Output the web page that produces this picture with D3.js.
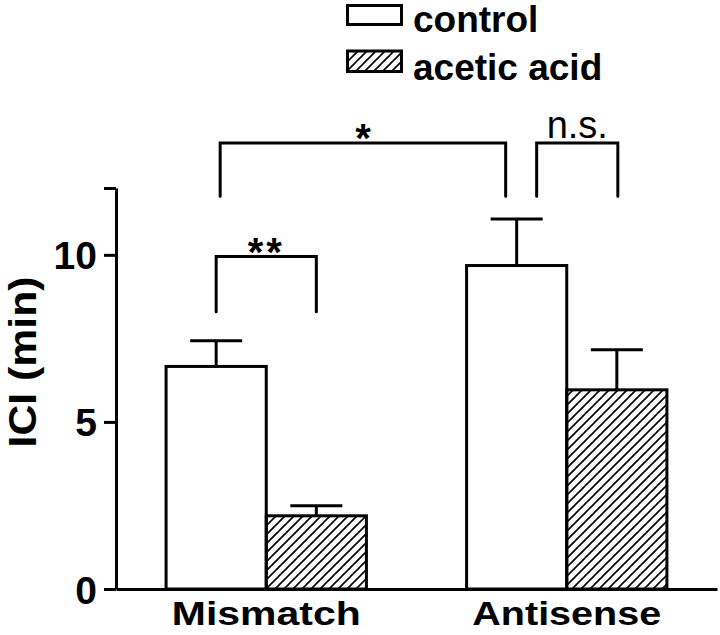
<!DOCTYPE html>
<html lang="en">
<head>
<meta charset="UTF-8">
<title>ICI mismatch vs antisense</title>
<script src="https://d3js.org/d3.v7.min.js"></script>
<style>
  body { margin: 0; background: #fff; }
  svg { font-family: 'Liberation Sans', Arial, sans-serif; display: block; }
</style>
</head>
<body>
<script>
// data
const groups = ["Mismatch", "Antisense"];
const series = ["control", "acetic acid"];
const means = [[6.66, 2.19], [9.68, 5.96]];
const sems = [[0.77, 0.30], [1.39, 1.20]];
const yTicks = [0, 5, 10, 12];
const yTickLabels = ["0", "5", "10", ""];

// significance brackets: [group, series] ends, y levels in min
const brackets = [
  { a: [0, 0], b: [0, 1], top: 9.95, bottom: 8.3, label: "**", bold: true },
  { a: [0, 0], b: [1, 0], top: 13.35, bottom: 11.75, label: "*", bold: true },
  { a: [1, 0], b: [1, 1], top: 13.35, bottom: 11.75, label: "n.s.", bold: false }
];

const W = 720, H = 635;
const svg = d3.select("body").append("svg").attr("width", W).attr("height", H);

const defs = svg.append("defs");
const pat = defs.append("pattern")
    .attr("id", "hatch")
    .attr("patternUnits", "userSpaceOnUse")
    .attr("width", 9).attr("height", 9);
pat.append("path")
    .attr("d", "M0,9 L9,0 M-2,2 L2,-2 M7,11 L11,7")
    .attr("stroke", "#000").attr("stroke-width", 1.6);

const y = d3.scaleLinear().domain([0, 12]).range([589, 188]);
const x0 = d3.scaleBand().domain(groups).range([116, 717])
    .paddingInner(1 / 3).paddingOuter(1 / 6);
const x1 = d3.scaleBand().domain(series).range([0, x0.bandwidth()]).padding(0);

const fills = ["#fff", "url(#hatch)"];

// bars
groups.forEach((g, gi) => {
  series.forEach((s, si) => {
    const bx = x0(g) + x1(s);
    const v = means[gi][si], e = sems[gi][si];
    const cx = bx + x1.bandwidth() / 2;
    // error bar (upper only)
    svg.append("line")
        .attr("x1", cx).attr("x2", cx)
        .attr("y1", y(v)).attr("y2", y(v + e))
        .attr("stroke", "#000").attr("stroke-width", 3);
    svg.append("line")
        .attr("x1", cx - 26).attr("x2", cx + 26)
        .attr("y1", y(v + e)).attr("y2", y(v + e))
        .attr("stroke", "#000").attr("stroke-width", 3);
    svg.append("rect")
        .attr("x", bx).attr("y", y(v))
        .attr("width", x1.bandwidth()).attr("height", y(0) - y(v))
        .attr("fill", fills[si])
        .attr("stroke", "#000").attr("stroke-width", 3);
  });
});

// axes
const yAxis = svg.append("g")
    .attr("transform", "translate(116,0)")
    .call(d3.axisLeft(y).tickValues(yTicks)
        .tickFormat((d, i) => yTickLabels[i])
        .tickSize(12).tickSizeOuter(0).tickPadding(7));
yAxis.selectAll("line, path").attr("stroke", "#000").attr("stroke-width", 3);
yAxis.selectAll("text")
    .attr("font-size", 39).attr("font-weight", "bold")
    .attr("font-family", "'Liberation Sans', Arial, sans-serif")
    .attr("fill", "#000").attr("dy", "0.36em");

const xAxis = svg.append("g")
    .attr("transform", "translate(0,589)")
    .call(d3.axisBottom(x0).tickSize(0).tickSizeOuter(0).tickPadding(0));
xAxis.select(".domain").attr("stroke", "#000").attr("stroke-width", 3);
xAxis.selectAll("text")
    .attr("font-size", 33).attr("font-weight", "bold")
    .attr("font-family", "'Liberation Sans', Arial, sans-serif")
    .attr("fill", "#000")
    .attr("dy", null).attr("y", 36)
    .attr("textLength", 189).attr("lengthAdjust", "spacingAndGlyphs");

svg.append("text")
    .attr("transform", "translate(36,362) rotate(-90)")
    .attr("text-anchor", "middle")
    .attr("font-size", 38).attr("font-weight", "bold")
    .attr("textLength", 171).attr("lengthAdjust", "spacingAndGlyphs")
    .text("ICI (min)");

// brackets
const barCenter = ([gi, si]) => x0(groups[gi]) + x1(series[si]) + x1.bandwidth() / 2;
const shifts = [[0, 0], [4, -11], [20, 1]];
brackets.forEach((b, i) => {
  const xa = barCenter(b.a) + shifts[i][0];
  const xb = barCenter(b.b) + shifts[i][1];
  svg.append("path")
      .attr("d", `M${xa},${y(b.bottom)} V${y(b.top)} H${xb} V${y(b.bottom)}`)
      .attr("fill", "none").attr("stroke", "#000").attr("stroke-width", 3)
      .attr("stroke-linecap", "round");
  const t = svg.append("text")
      .attr("x", (xa + xb) / 2)
      .attr("text-anchor", "middle")
      .attr("font-size", b.bold ? 40 : 38)
      .attr("font-weight", b.bold ? "bold" : "normal")
      .attr("letter-spacing", b.label === "**" ? 3 : 0)
      .text(b.label);
  if (b.bold) t.attr("y", y(b.top) + 9);
  else t.attr("y", y(b.top) - 5);
});

// legend
const leg = svg.append("g").attr("transform", "translate(346,0)");
series.forEach((s, i) => {
  leg.append("rect")
      .attr("x", 1.5).attr("y", 5.5 + i * 45.5)
      .attr("width", 54).attr("height", 19 + i * 1.5)
      .attr("fill", fills[i]).attr("stroke", "#000").attr("stroke-width", 3);
  leg.append("text")
      .attr("x", 67).attr("y", 32 + i * 47.5)
      .attr("font-size", 37).attr("font-weight", "bold")
      .text(s);
});
</script>
</body>
</html>
